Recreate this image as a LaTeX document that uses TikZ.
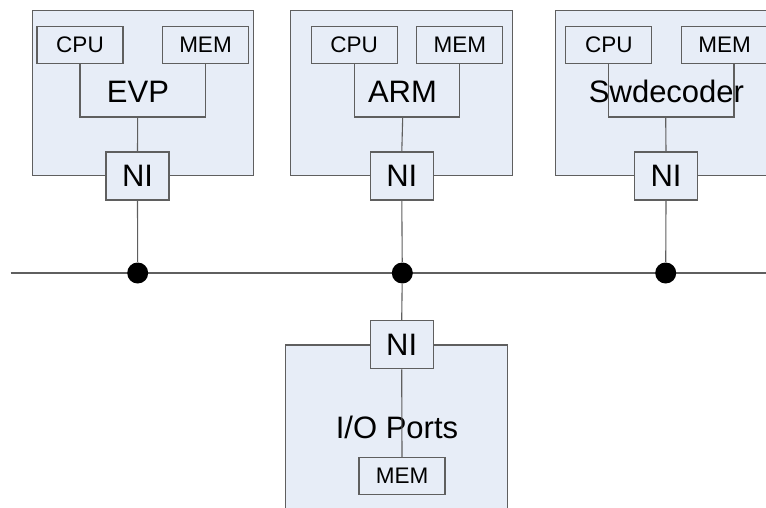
\documentclass[tikz,border=0pt]{standalone}
\usepackage{fontspec}
\setmainfont{Liberation Sans}
\definecolor{boxfill}{RGB}{231,237,247}
\definecolor{linegray}{RGB}{95,95,95}

\begin{document}
\begin{tikzpicture}[x=1pt, y=-1pt, line width=1.1pt,
  unit/.style={draw=linegray, fill=boxfill, minimum width=221.6pt, minimum height=165pt, inner sep=0pt},
  part/.style={draw=linegray, fill=boxfill, minimum width=86pt, minimum height=37pt, inner sep=0pt, font=\fontsize{22.5}{22.5}\selectfont},
  ni/.style={draw=linegray, fill=boxfill, minimum width=63pt, minimum height=48pt, inner sep=0pt, font=\fontsize{31}{31}\selectfont},
  junction/.style={circle, fill=black, minimum size=21pt, inner sep=0pt},
  title/.style={inner sep=0pt, font=\fontsize{31}{31}\selectfont},
  wire/.style={draw=linegray}]
\useasboundingbox (0,0) rectangle (766,508);

% processing units
\node[unit] (unitA) at (143,92.8) {};
\node[unit] (unitB) at (401.5,92.8) {};
\node[unit] (unitC) at (666,92.8) {};
\node[unit] (unitD) at (396.5,427.5) {};

\node[part] (cpuA) at (80,45) {CPU};
\node[part] (memA) at (205.5,45) {MEM};
\node[part] (cpuB) at (354.2,45) {CPU};
\node[part] (memB) at (459.8,45) {MEM};
\node[part] (cpuC) at (608.8,45) {CPU};
\node[part] (memC) at (724.5,45) {MEM};
\node[part] (memD) at (402,475.8) {MEM};

\node[ni] (niA) at (137.5,176) {NI};
\node[ni] (niB) at (401.8,176) {NI};
\node[ni] (niC) at (666,176) {NI};
\node[ni] (niD) at (401.7,344.7) {NI};

\node[title] (evp) at (138,92) {EVP};
\node[title] (arm) at (402.5,92) {ARM};
\node[title] (swdec) at (666.5,91.5) {Swdecoder};
\node[title] (ioports) at (397,427) {I/O Ports};

\coordinate (joinA) at (137.7,117);
\coordinate (joinB) at (402.7,117);
\coordinate (joinC) at (665.7,117);
\coordinate (legC) at (734,117);

% bus
\coordinate (busL) at (10.7,273);
\coordinate (busR) at (770,273);
\draw[wire] (busL) -- (busR);

\foreach \name/\x in {dotA/137.7,dotB/402.3,dotC/665.7}
{
    \node[junction] (\name) at (\x,273) {};
}

\draw[wire] (cpuA.south) |- (joinA) -| (memA.south);
\draw[wire] (cpuB.south) |- (joinB) -| (memB.south);
\draw[wire] (cpuC.south) |- (legC) -- (legC |- memC.south);
\draw[wire] (joinA) -- (niA.north);
\draw[wire] (joinB) -- (niB.north);
\draw[wire] (joinC) -- (niC.north);
\draw[wire] (niA.south) -- (dotA);
\draw[wire] (niB.south) -- (dotB);
\draw[wire] (niC.south) -- (dotC);
\draw[wire] (dotB) -- (niD.north);
\draw[wire] (niD.south) -- (memD.north);

\end{tikzpicture}
\end{document}
